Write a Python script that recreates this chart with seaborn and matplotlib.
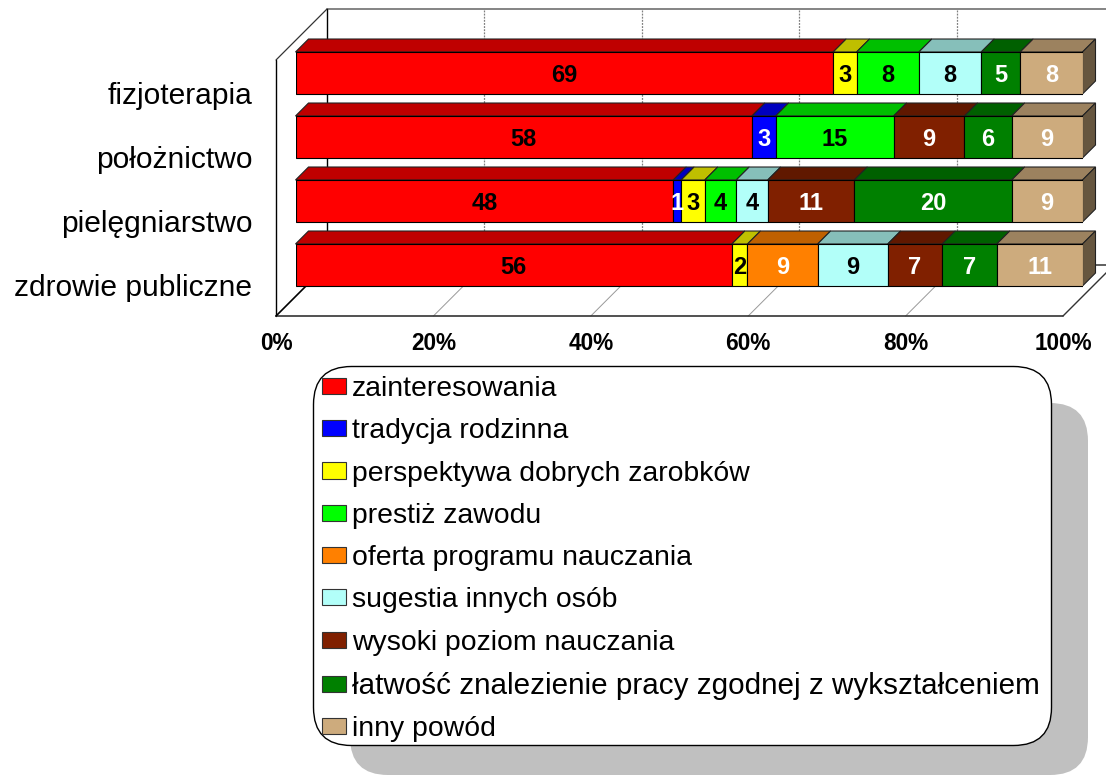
import matplotlib
matplotlib.use("Agg")
import matplotlib.pyplot as plt
import numpy as np
import pandas as pd
import seaborn as sns
from matplotlib.patches import FancyBboxPatch, Patch, Polygon
from matplotlib.transforms import Affine2D

# dane
kierunki = ["fizjoterapia", "położnictwo", "pielęgniarstwo", "zdrowie publiczne"]
powody = [
    "zainteresowania",
    "tradycja rodzinna",
    "perspektywa dobrych zarobków",
    "prestiż zawodu",
    "oferta programu nauczania",
    "sugestia innych osób",
    "wysoki poziom nauczania",
    "łatwość znalezienie pracy zgodnej z wykształceniem",
    "inny powód",
]
zainteresowania = [69, 58, 48, 56]
tradycja = [0, 3, 1, 0]
perspektywa = [3, 0, 3, 2]
prestiz = [8, 15, 4, 0]
oferta = [0, 0, 0, 9]
sugestia = [8, 0, 4, 9]
poziom = [0, 9, 11, 7]
latwosc = [5, 6, 20, 7]
inny = [8, 9, 9, 11]
x_ticks = [0, 20, 40, 60, 80, 100]

# kolory: przód, góra, kolor etykiety
kolory = ["#FF0000", "#0000FF", "#FFFF00", "#00FF00", "#FF8000", "#B2FFF9", "#802000", "#008000", "#CDAB7D"]
gora = ["#BF0000", "#0000BF", "#BFBF00", "#00BF00", "#BF6000", "#86BFBA", "#601800", "#006000", "#9C825F"]
bok = "#66563F"
etykiety = ["black", "white", "black", "black", "white", "black", "white", "white", "white"]

# ramka danych do seaborna
wartosci = np.array([zainteresowania, tradycja, perspektywa, prestiz, oferta, sugestia, poziom, latwosc, inny], dtype=float)
df = pd.DataFrame(wartosci.T, index=kierunki, columns=powody)
procent = df.div(df.sum(axis=1), axis=0) * 100
lewa = procent.cumsum(axis=1).shift(1, axis=1).fillna(0)

sns.set_theme(style="white")
plt.rcParams["font.family"] = ["Liberation Sans", "DejaVu Sans"]

W, H = 1106, 778
fig = plt.figure(figsize=(W / 100, H / 100), dpi=100)

# tło w pikselach: ściany 3D i ramka legendy
tlo = fig.add_axes([0, 0, 1, 1], zorder=0)
tlo.set_xlim(0, W)
tlo.set_ylim(H, 0)
tlo.axis("off")

X0, X1 = 295.5, 1082.5  # przód słupków, 0% i 100%
Y_TOP, Y_BOT = 41, 297
GL = 13  # głębokość słupka w pikselach
FX0, FY, SX, SY = 276, 316, 51, 51  # podłoga
SZER = X1 - X0

for t in x_ticks[1:-1]:
    fx = FX0 + SZER * t / 100
    tlo.plot([fx, fx + SX], [FY, FY - SY], color="#999999", lw=0.7)
    tlo.plot([fx + SX, fx + SX], [FY - SY, 9], color="#808080", lw=0.9, ls=(0, (1.5, 1)))
tlo.plot([FX0 + SX, W], [9, 9], color="#707070", lw=1.2)
tlo.plot([FX0 + SX, FX0 + SX], [9, FY - SY], color="black", lw=1.0)
tlo.plot([FX0, FX0 + SX], [60, 9], color="#333333", lw=0.9)
tlo.plot([FX0, FX0], [60, FY], color="black", lw=1.0)
tlo.plot([FX0, FX0 + SZER], [FY, FY], color="#333333", lw=1.2)
tlo.plot([FX0, FX0 + SX], [FY, FY - SY], color="black", lw=1.2)
tlo.plot([FX0 + SZER, FX0 + SZER + SX], [FY, FY - SY], color="#333333", lw=1.0)
tlo.plot([FX0 + SX, FX0 + SZER + SX], [FY - SY, FY - SY], color="#444444", lw=1.2)

# cień i ramka legendy
tlo.add_patch(FancyBboxPatch((350, 403), 738, 372, boxstyle="round,pad=0,rounding_size=38",
                             fc="#C0C0C0", ec="none"))
tlo.add_patch(FancyBboxPatch((313.5, 366.5), 738, 379, boxstyle="round,pad=0,rounding_size=38",
                             fc="white", ec="black", lw=1.0))

# główne osie: słupki
ax = fig.add_axes([X0 / W, 1 - Y_BOT / H, SZER / W, (Y_BOT - Y_TOP) / H], zorder=1)
ax.patch.set_visible(False)

for i, powod in enumerate(powody):
    sub = pd.DataFrame({"kierunek": kierunki, "procent": procent[powod].values, "lewa": lewa[powod].values,
                        "wartosc": df[powod].values})
    sub = sub[sub["wartosc"] > 0]
    sns.barplot(data=sub, x="procent", y="kierunek", order=kierunki, orient="y", left=sub["lewa"].values,
                color=kolory[i], saturation=1, width=0.656, edgecolor="black", linewidth=0.8,
                errorbar=None, ax=ax, zorder=3)
    kont = ax.containers[-1]
    teksty = ax.bar_label(kont, labels=[f"{v:.0f}" for v in sub["wartosc"]], label_type="center",
                          color=etykiety[i], fontsize=17, fontweight="bold", zorder=5)
    for t in teksty:
        t.set_verticalalignment("center_baseline")

ax.set_xlim(0, 100)
ax.set_ylim(3.5, -0.5)
dx = GL / SZER * 100
dy = GL / ((Y_BOT - Y_TOP) / 4)

# góra i prawy bok każdego segmentu, z geometrii słupków
for i, kont in enumerate(ax.containers):
    for p in kont.patches:
        x, y, w, h = p.get_x(), p.get_y(), p.get_width(), p.get_height()
        y_g, y_d = min(y, y + h), max(y, y + h)
        ax.add_patch(Polygon([(x, y_g), (x + w, y_g), (x + w + dx, y_g - dy), (x + dx, y_g - dy)],
                             fc=gora[i], ec="#222222", lw=0.8, clip_on=False, zorder=2))
        if abs(x + w - 100) < 0.01:
            ax.add_patch(Polygon([(x + w, y_g), (x + w + dx, y_g - dy), (x + w + dx, y_d - dy), (x + w, y_d)],
                                 fc=bok, ec="#222222", lw=0.8, clip_on=False, zorder=2))

# opisy osi
ax.set_xlabel("")
ax.set_ylabel("")
ax.set_xticks(x_ticks)
ax.set_xticklabels([f"{t}%" for t in x_ticks], fontsize=16.3, fontweight="bold", color="black")
ax.set_yticks(range(len(kierunki)))
ax.set_yticklabels(kierunki, fontsize=21.6, color="black")
ax.tick_params(axis="x", length=0, pad=25.5)
ax.tick_params(axis="y", length=0, pad=31)
for lab in ax.get_xticklabels():
    lab.set_transform(lab.get_transform() + Affine2D().translate(FX0 - X0, 0))
for lab in ax.get_yticklabels():
    lab.set_transform(lab.get_transform() + Affine2D().translate(0, -20))
sns.despine(ax=ax, left=True, bottom=True)

# legenda
uchwyty = [Patch(fc=c, ec="#333333", lw=0.8, label=n) for c, n in zip(kolory, powody)]
leg = ax.legend(handles=uchwyty, loc="upper left", bbox_to_anchor=(322, 376), bbox_transform=tlo.transData,
                frameon=False, fontsize=20.4, borderpad=0, borderaxespad=0, handlelength=0.85, handleheight=0.5,
                handletextpad=0.21, labelspacing=0.575, labelcolor="black")
leg.get_texts()[7].set_fontsize(21.3)

fig.savefig("out.png", dpi=100)
